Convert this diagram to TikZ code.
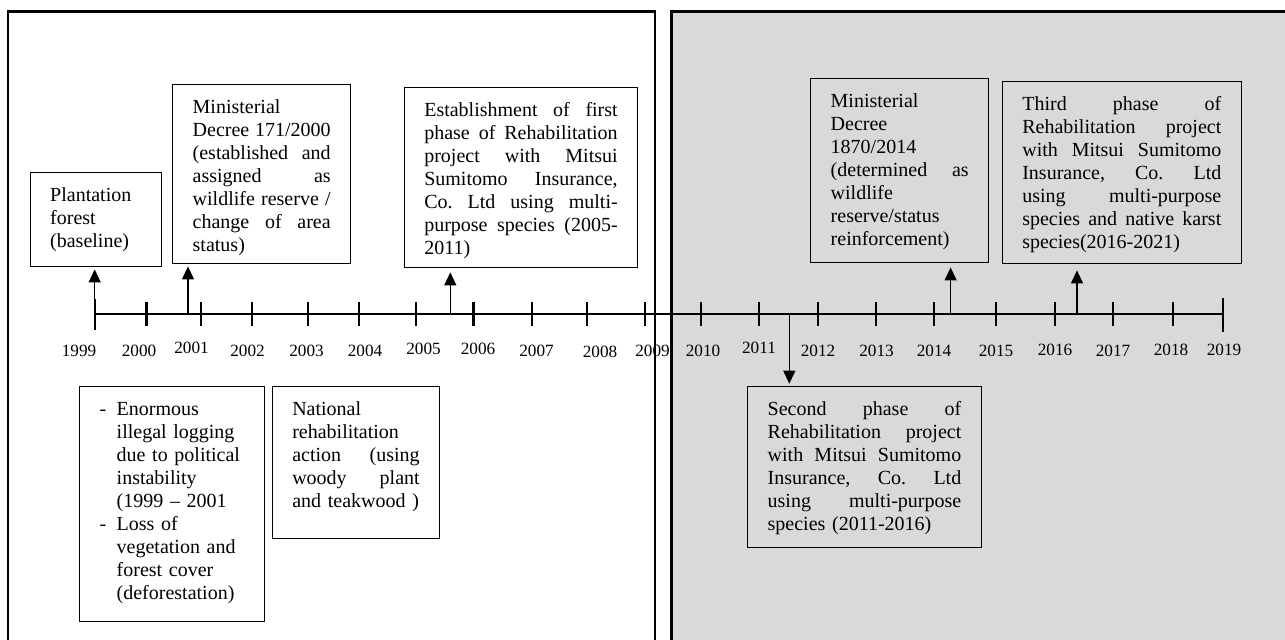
\documentclass[tikz,border=0pt]{standalone}
\usepackage{fontspec}
\setmainfont{Liberation Serif}
\usepackage{tikz}
\usetikzlibrary{arrows.meta}
\tikzset{>={Triangle[length=6.5pt,width=6pt]}}
\usepackage{xcolor}
\colorlet{panelgray}{black!15}
\frenchspacing
\tikzstyle{event}=[draw,line width=0.7pt,anchor=north west,align=left,inner xsep=10pt,inner ysep=6.5pt,text height=8pt,font=\fontsize{10}{11.5}\selectfont]
\tikzstyle{yearlab}=[inner sep=0pt,font=\fontsize{8.6}{10}\selectfont]
\newcommand{\jl}[1]{{\frenchspacing\spaceskip=0pt\xspaceskip=0pt\makebox[\hsize][s]{#1}}}
\newcommand{\dashit}{\makebox[8.5pt][l]{-}}
\newcommand{\dashin}{\hspace*{8.5pt}}

\begin{document}
\begin{tikzpicture}[x=0.5pt,y=-0.5pt]
    \useasboundingbox (0,0) rectangle (1285,639);
    % two periods
    \draw[line width=1.2pt] (8,11.5) rectangle (655,660);
    \draw[line width=1.2pt,fill=panelgray] (671.5,11.5) rectangle (1300,660);

    % time line with years
    \draw[line width=1.2pt] (94.7,314)--(1223,314);
    \foreach \tx/\lx/\ly/\yr in {94.7/79/351/1999,146.5/139/351/2000,201/191.5/348/2001,252/247.5/351/2002,308/306.5/351/2003,359/365/351/2004,416/423.5/349/2005,473.5/478/349/2006,532/536.5/351/2007,587/600/352/2008,645/652.5/351/2009,701/703/351/2010,759/759/348/2011,818/818/351/2012,876/876.5/351/2013,934/934/351/2014,996/996/351/2015,1055/1055/350/2016,1113/1113/351/2017,1173/1171/350/2018,1223/1224/350/2019}{
        \draw[line width=1.1pt] (\tx,302)--(\tx,326);
        \node[yearlab] (y\yr) at (\lx,\ly) {\yr};
    }
    \draw[line width=1.1pt] (94.7,299)--(94.7,330);
    \draw[line width=1.1pt] (1223,298)--(1223,332);

    \coordinate (e1999) at (94.7,314);
    \coordinate (e2000) at (188,314);
    \coordinate (e2005) at (450.3,314);
    \coordinate (e2011) at (789.3,314);
    \coordinate (e2014) at (950.6,314);
    \coordinate (e2016) at (1077,314);

    % events above the line
    \node[event,text width=45.75pt,text depth=26pt] (plant) at (29.5,172) {Plantation\\forest\\(baseline)};
    \node[event,text width=69pt,text depth=68.5pt] (dec2000) at (172,84) {Ministerial\\\jl{Decree 171/2000}\\\jl{(established and}\\\jl{assigned as}\\\jl{wildlife reserve /}\\\jl{change of area}\\status)};
    \node[event,text width=96.7pt,text depth=69pt] (phase1) at (403.6,87) {\jl{Establishment of first}\\\jl{phase of Rehabilitation}\\\jl{project with Mitsui}\\\jl{Sumitomo Insurance,}\\\jl{Co. Ltd using multi-}\\\jl{purpose species (2005-}\\2011)};
    \node[event,text width=69pt,text depth=71pt] (dec2014) at (810,78) {Ministerial\\Decree\\1870/2014\\\jl{(determined as}\\wildlife\\reserve/status\\reinforcement)};
    \node[event,text width=99.5pt,text depth=70pt] (phase3) at (1001.6,81) {\jl{Third phase of}\\\jl{Rehabilitation project}\\\jl{with Mitsui Sumitomo}\\\jl{Insurance, Co. Ltd}\\\jl{using multi-purpose}\\\jl{species and native karst}\\species(2016-2021)};

    % events below the line
    \node[event,text width=72.5pt,text depth=96.5pt] (logging) at (79,386) {\dashit Enormous\\\dashin illegal logging\\\dashin due to political\\\dashin instability\\\dashin (1999 -- 2001\\\dashit Loss of\\\dashin vegetation and\\\dashin forest cover\\\dashin (deforestation)};
    \node[event,text width=63.7pt,text depth=54.85pt] (natl) at (271.6,386) {National\\rehabilitation\\\jl{action (using}\\\jl{woody plant}\\and teakwood )};
    \node[event,text width=96.8pt,text depth=59.65pt] (phase2) at (747,385.7) {\jl{Second phase of}\\\jl{Rehabilitation project}\\\jl{with Mitsui Sumitomo}\\\jl{Insurance, Co. Ltd}\\\jl{using multi-purpose}\\species (2011-2016)};

    \draw[->,line width=0.6pt,shorten >=1pt] (e1999)--(e1999 |- plant.south);
    \draw[->,line width=0.6pt,shorten >=1pt] (e2000)--(e2000 |- dec2000.south);
    \draw[->,line width=0.6pt,shorten >=2pt] (e2005)--(e2005 |- phase1.south);
    \draw[->,line width=0.6pt,shorten >=1pt] (e2011)--(e2011 |- phase2.north);
    \draw[->,line width=0.6pt,shorten >=2pt] (e2014)--(e2014 |- dec2014.south);
    \draw[->,line width=0.6pt,shorten >=3pt] (e2016)--(e2016 |- phase3.south);
\end{tikzpicture}
\end{document}
